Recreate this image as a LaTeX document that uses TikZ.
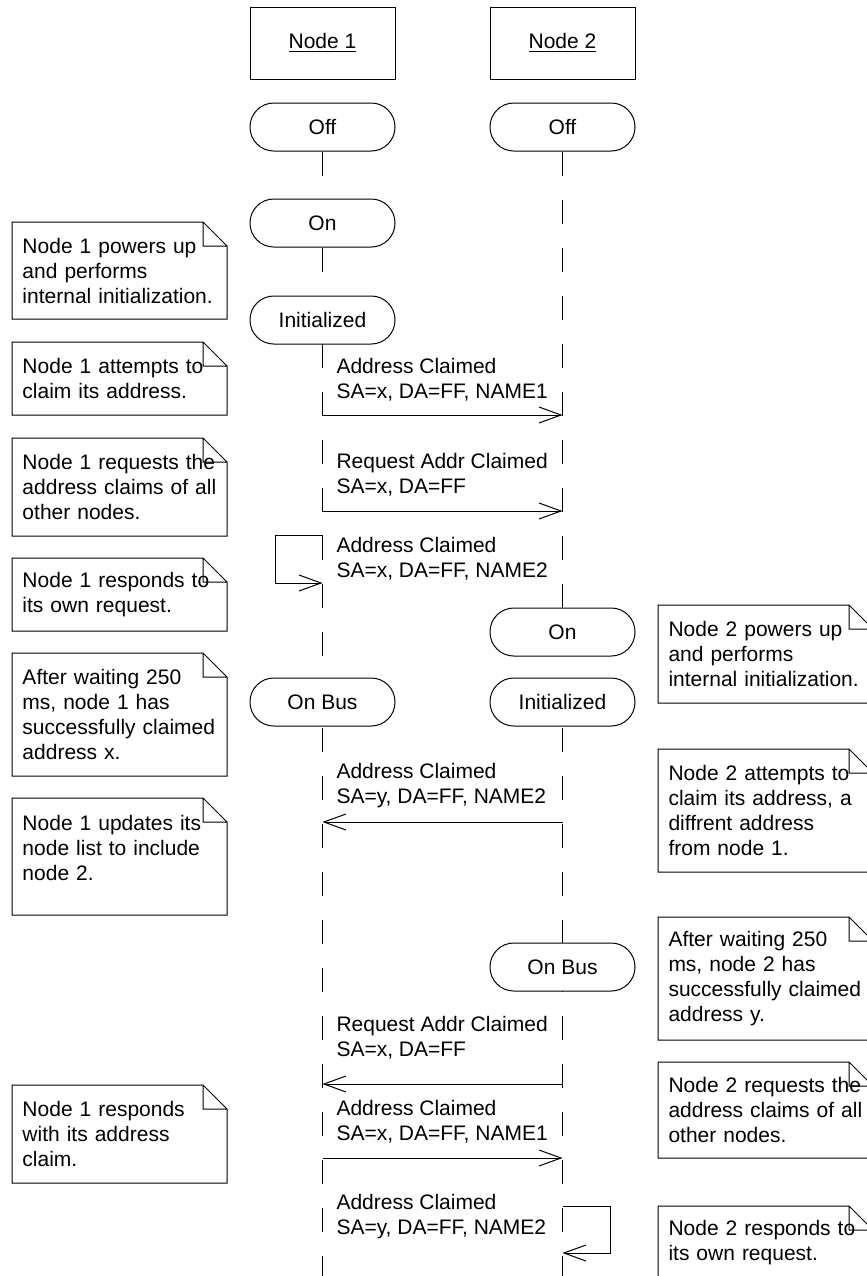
\documentclass[tikz,border=0pt]{standalone}
\usepackage{fontspec}
\setmainfont{Liberation Sans}
\usetikzlibrary{arrows.meta}

\begin{document}
\begin{tikzpicture}[x=0.5pt,y=-0.5pt,line width=0.5pt,
  every node/.style={font=\fontsize{10.5pt}{12.5pt}\selectfont},
  headbox/.style={draw,minimum width=72.5pt,minimum height=36pt},
  statebox/.style={draw,fill=white,rounded corners=11.9pt,minimum width=72.5pt,minimum height=24pt},
  lifeline/.style={dash pattern=on 12pt off 12pt},
  msg/.style={-{Straight Barb[length=11pt,width=8pt]}},
  msgtext/.style={anchor=west,align=left,inner sep=0pt},
  notebox/.style={anchor=north west,text width=97pt,align=left,inner xsep=5.25pt,inner ysep=0pt,outer sep=0pt}]
\useasboundingbox (0,0) rectangle (867,1276);

% Heads
\node[headbox] (n1) at (322.5,43) {\underline{Node 1}};
\node[headbox] (n2) at (562.5,43) {\underline{Node 2}};

% Lifelines
\node[statebox] (n1off) at (322.5,127) {Off};
\node[statebox] (n2off) at (562.5,127) {Off};
\coordinate (n1end) at (322.5,1290);
\coordinate (n2end) at (562.5,1290);
\draw[lifeline] (n1off.south) -- (n1end);
\draw[lifeline] (n2off.south) -- (n2end);

% States
\node[statebox] (n1on) at (322.5,223) {On};
\node[statebox] (n1init) at (322.5,320) {Initialized};
\node[statebox] (n1bus) at (322.5,702) {On Bus};
\node[statebox] (n2on) at (562.5,632) {On};
\node[statebox] (n2init) at (562.5,702) {Initialized};
\node[statebox] (n2bus) at (562.5,967) {On Bus};

% Messages
\node[msgtext] (m1) at (336,380) {Address Claimed\\SA=x, DA=FF, NAME1};
\draw[msg] (n1off |- 0,415) -- (n2off |- 0,415);
\node[msgtext] (m2) at (336,475) {Request Addr Claimed\\SA=x, DA=FF};
\draw[msg] (n1off |- 0,511) -- (n2off |- 0,511);
\node[msgtext] (m3) at (336,559) {Address Claimed\\SA=x, DA=FF, NAME2};
\draw[msg] (n1off |- 0,535) -- (275,535) -- (275,583) -- (n1off |- 0,583);
\node[msgtext] (m4) at (336,786) {Address Claimed\\SA=y, DA=FF, NAME2};
\draw[msg] (n2off |- 0,822) -- (n1off |- 0,822);
\node[msgtext] (m5) at (336,1038) {Request Addr Claimed\\SA=x, DA=FF};
\draw[msg] (n2off |- 0,1084) -- (n1off |- 0,1084);
\node[msgtext] (m6) at (336,1122) {Address Claimed\\SA=x, DA=FF, NAME1};
\draw[msg] (n1off |- 0,1158) -- (n2off |- 0,1158);
\node[msgtext] (m7) at (336,1217) {Address Claimed\\SA=y, DA=FF, NAME2};
\draw[msg] (n2off |- 0,1206) -- (610,1206) -- (610,1253) -- (n2off |- 0,1253);

% Notes
\node[notebox,minimum height=48.5pt] (l1) at (12,222) {Node 1 powers up\\and performs\\internal initialization.};
\node[notebox,minimum height=36.5pt] (l2) at (12,342) {Node 1 attempts to\\claim its address.};
\node[notebox,minimum height=49pt] (l3) at (12,438) {Node 1 requests the\\address claims of all\\other nodes.};
\node[notebox,minimum height=36.5pt] (l4) at (12,558) {Node 1 responds to\\its own request.};
\node[notebox,minimum height=61.5pt] (l5) at (12,653) {After waiting 250\\ms, node 1 has\\successfully claimed\\address x.};
\node[notebox,text height=16pt,text depth=42.5pt] (l6) at (12,798) {Node 1 updates its\\node list to include\\node 2.};
\node[notebox,minimum height=49pt] (l7) at (12,1085) {Node 1 responds\\with its address\\claim.};
\node[notebox,minimum height=49pt] (r1) at (658,605) {Node 2 powers up\\and performs\\internal initialization.};
\node[notebox,minimum height=61.5pt] (r2) at (658,749) {Node 2 attempts to\\claim its address, a\\diffrent address\\from node 1.};
\node[notebox,minimum height=61.5pt] (r3) at (658,917) {After waiting 250\\ms, node 2 has\\successfully claimed\\address y.};
\node[notebox,minimum height=48pt] (r4) at (658,1062) {Node 2 requests the\\address claims of all\\other nodes.};
\node[notebox,minimum height=37pt] (r5) at (658,1206) {Node 2 responds to\\its own request.};
\foreach \n in {l1,l2,l3,l4,l5,l6,l7,r1,r2,r3,r4,r5}
  \draw (\n.north west) -- ([xshift=-12pt]\n.north east) -- ([yshift=-12pt]\n.north east)
    -- (\n.south east) -- (\n.south west) -- cycle
    ([xshift=-12pt]\n.north east) |- ([yshift=-12pt]\n.north east);
\end{tikzpicture}
\end{document}
